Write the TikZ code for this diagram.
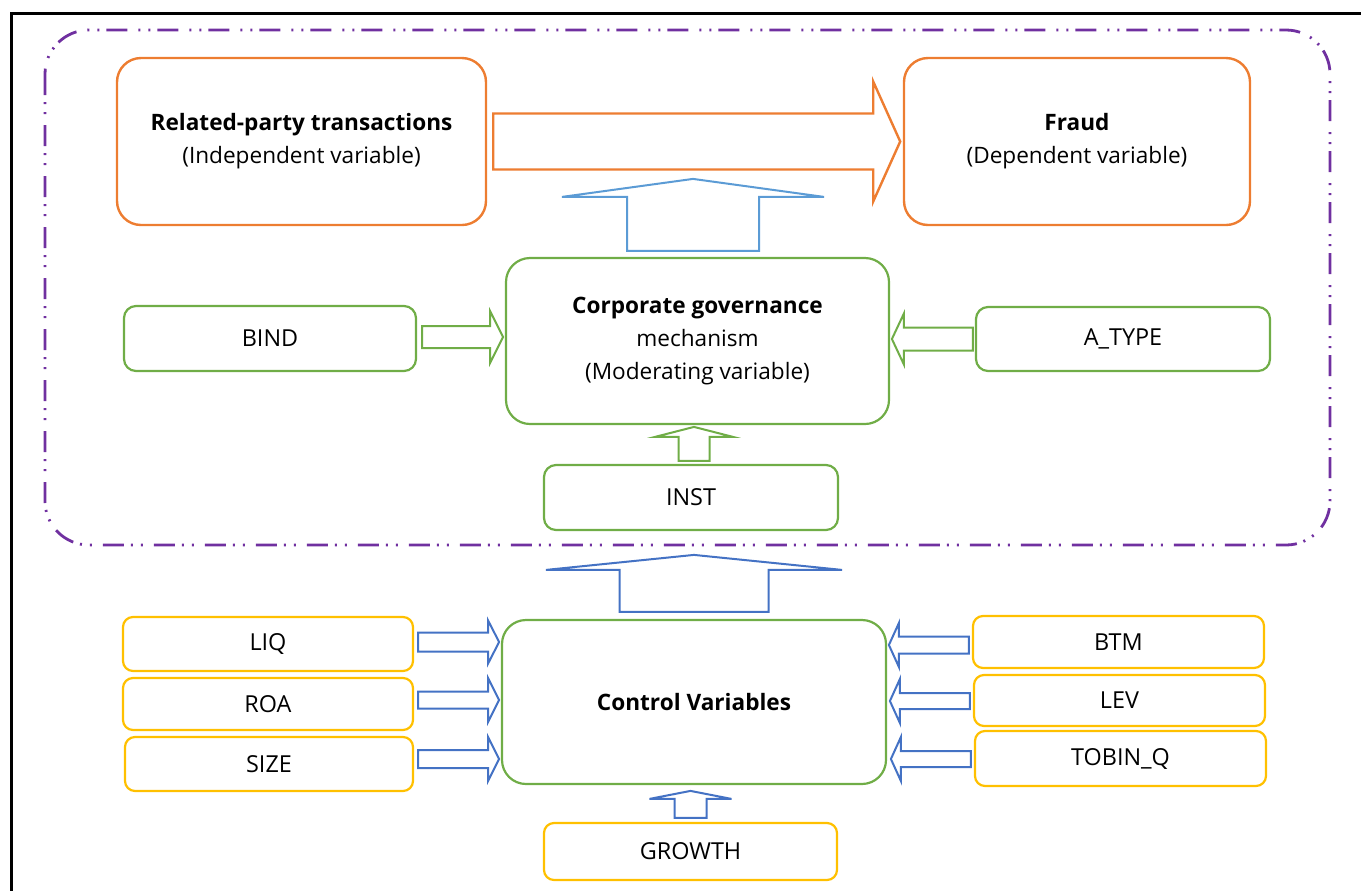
\documentclass[tikz,border=0pt]{standalone}
\usepackage{fontspec}
\setmainfont{Open Sans}
\usetikzlibrary{calc}

\definecolor{cforange}{HTML}{ED7D31}
\definecolor{cfgreen}{HTML}{70AD47}
\definecolor{cflightblue}{HTML}{5B9BD5}
\definecolor{cfblue}{HTML}{4472C4}
\definecolor{cfyellow}{HTML}{FFC000}
\definecolor{cfpurple}{HTML}{7030A0}

\tikzset{
  box size/.style 2 args={minimum width=#1*0.5pt, minimum height=#2*0.5pt},
  varbox/.style={inner sep=0pt, align=center, font=\fontsize{11.3pt}{16.5pt}\selectfont},
  orangebox/.style={varbox, draw=cforange, line width=1.2pt, rounded corners=12pt},
  greenbox/.style={varbox, draw=cfgreen, line width=1.1pt, rounded corners=12pt},
  greensmall/.style={varbox, font=\fontsize{11.7pt}{16.5pt}\selectfont, draw=cfgreen, line width=1.1pt, rounded corners=6pt},
  yellowbox/.style={varbox, font=\fontsize{11.7pt}{16.5pt}\selectfont, draw=cfyellow, line width=1.1pt, rounded corners=5pt},
  groupline/.style={draw=cfpurple, line width=1.4pt, rounded corners=22pt,
    dash pattern=on 10.5pt off 3.5pt on 1pt off 4pt on 1pt off 5.5pt},
  orangearrow/.style={draw=cforange, line width=1.2pt, line join=miter},
  greenarrow/.style={draw=cfgreen, line width=1pt, line join=miter},
  lightbluearrow/.style={draw=cflightblue, line width=1pt, line join=miter},
  bluearrow/.style={draw=cfblue, line width=1pt, line join=miter}
}

% block arrow: style, start, angle, length, shaft half width, head half width, head length
\newcommand{\blockarrow}[7]{%
  \draw[#1, shift={#2}, rotate=#3] (0,-#5) -- (#4-#7,-#5) -- (#4-#7,-#6) -- (#4,0)
    -- (#4-#7,#6) -- (#4-#7,#5) -- (0,#5) -- cycle;}

\begin{document}
\begin{tikzpicture}[x=0.5pt, y=-0.5pt]
    \useasboundingbox (0,0) rectangle (1361,890);
    \clip (0,0) rectangle (1361,890);

    % Draw frame and group
    \draw[line width=1.5pt] (11,13) rectangle (1420,940);
    \draw[groupline] (45,30) rectangle (1330,545);

    % Draw top row
    \node[orangebox, box size={369}{167}] (rpt) at (301.5,141.5) {\textbf{Related-party transactions}\\(Independent variable)};
    \node[orangebox, box size={346}{167}] (fraud) at (1077,141.5) {\textbf{Fraud}\\(Dependent variable)};

    % Draw moderating part
    \node[greenbox, box size={383}{166}] (gov) at (697.5,341) {\textbf{Corporate governance}\\mechanism\\(Moderating variable)};
    \node[greensmall, box size={292}{65}] (bind) at (270,338.5) {BIND};
    \node[greensmall, box size={294}{64}] (atype) at (1123,339) {A\_TYPE};
    \node[greensmall, box size={294}{65}] (inst) at (691,497.5) {INST};

    % Draw control part
    \node[greenbox, box size={384}{164}] (ctrl) at (694,702) {\textbf{Control Variables}};
    \node[yellowbox, box size={290}{54}] (liq) at (268,644) {LIQ};
    \node[yellowbox, box size={290}{52}] (roa) at (268,704) {ROA};
    \node[yellowbox, box size={288}{54}] (size) at (269,764) {SIZE};
    \node[yellowbox, box size={291}{52}] (btm) at (1118.5,642) {BTM};
    \node[yellowbox, box size={291}{51}] (lev) at (1119.5,700.5) {LEV};
    \node[yellowbox, box size={291}{55}] (tobin) at (1120.5,758.5) {TOBIN\_Q};
    \node[yellowbox, box size={293}{57}] (growth) at (690.5,851.5) {GROWTH};

    % Draw block arrows
    \blockarrow{orangearrow}{($(rpt.east)+(6,0)$)}{0}{407}{28}{60}{27}
    \blockarrow{lightbluearrow}{($(gov.north)+(-4.5,-6)$)}{90}{72}{66}{131}{18}
    \blockarrow{greenarrow}{($(bind.east)+(5,-1.5)$)}{0}{81}{11}{26}{13}
    \blockarrow{greenarrow}{($(atype.west)+(-2,0)$)}{180}{81}{11.5}{25.5}{12}
    \blockarrow{greenarrow}{($(inst.north)+(3,-3)$)}{90}{34}{15.5}{39}{10}
    \blockarrow{bluearrow}{($(ctrl.north)+(0,-7)$)}{90}{57}{74.5}{148}{15}
    \blockarrow{bluearrow}{($(liq.east)+(4,-2)$)}{0}{81}{9.5}{21.5}{11}
    \blockarrow{bluearrow}{($(roa.east)+(4,-4)$)}{0}{81}{8.5}{22}{11}
    \blockarrow{bluearrow}{($(size.east)+(4,-5)$)}{0}{81}{9}{22}{11}
    \blockarrow{bluearrow}{($(btm.west)+(-3,3)$)}{180}{80}{8.5}{22}{10}
    \blockarrow{bluearrow}{($(lev.west)+(-3,0.5)$)}{180}{80}{8}{22}{10}
    \blockarrow{bluearrow}{($(tobin.west)+(-3,0.5)$)}{180}{80}{8}{22}{10}
    \blockarrow{bluearrow}{($(growth.north)+(0,-4)$)}{90}{27}{16}{41}{8}
\end{tikzpicture}
\end{document}
